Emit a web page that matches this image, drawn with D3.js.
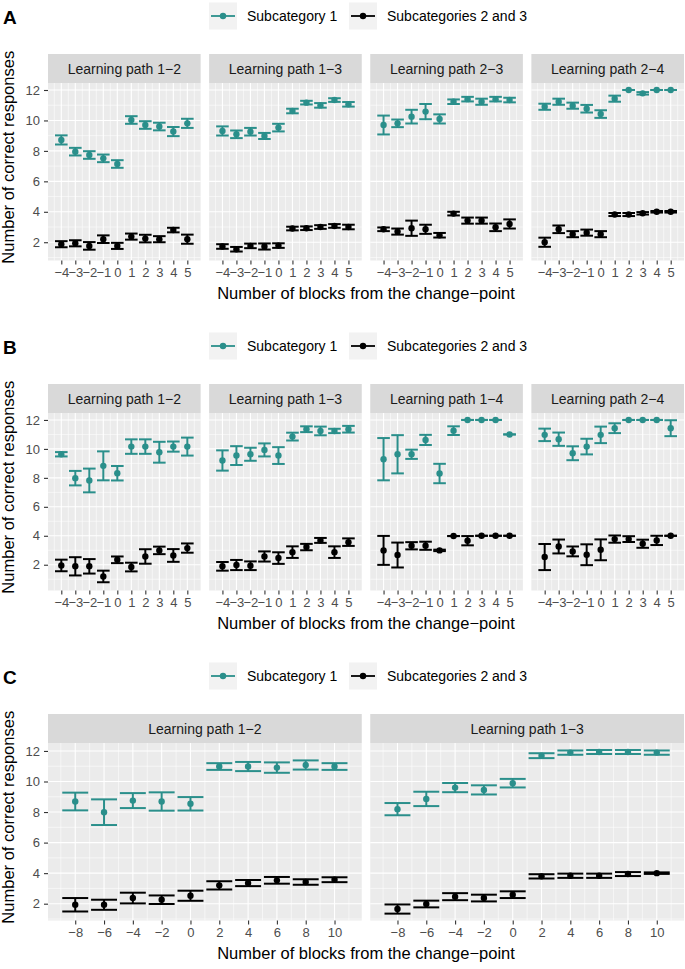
<!DOCTYPE html>
<html><head><meta charset="utf-8">
<script src="https://cdn.jsdelivr.net/npm/d3@7"></script>
<style>body{margin:0;background:#fff}svg{display:block;font-family:"Liberation Sans",Arial,Helvetica,sans-serif}</style>
</head><body><div id="chart"></div>
<script>
// ---------------- DATA ----------------
const seriesNames = ["Subcategory 1", "Subcategories 2 and 3"];
const blocksAB = [-4,-3,-2,-1,0,1,2,3,4,5];
const blocksC = [-8,-6,-4,-2,0,2,4,6,8,10];
const xTicksAB = blocksAB;
const xTicksC = blocksC;
const yTicks = [2,4,6,8,10,12];
const xTitle = "Number of blocks from the change\u2212point";
const yTitle = "Number of correct responses";

const pathsA = ["Learning path 1\u22122","Learning path 1\u22123","Learning path 2\u22123","Learning path 2\u22124"];
const pathsB = ["Learning path 1\u22122","Learning path 1\u22123","Learning path 1\u22124","Learning path 2\u22124"];
const pathsC = ["Learning path 1\u22122","Learning path 1\u22123"];

// Panel A
const aSub1 = [
  [8.72,7.95,7.73,7.51,7.14,10.03,9.70,9.60,9.27,9.81],
  [9.31,9.09,9.26,8.98,9.53,10.62,11.17,10.99,11.34,11.06],
  [9.70,9.81,10.25,10.58,10.10,11.23,11.40,11.23,11.40,11.34],
  [10.90,11.23,10.97,10.77,10.42,11.43,12.00,11.78,12.00,12.00]];
const aSub1Se = [
  [0.30,0.25,0.25,0.25,0.25,0.25,0.25,0.25,0.30,0.30],
  [0.30,0.25,0.25,0.20,0.25,0.15,0.12,0.15,0.12,0.15],
  [0.62,0.25,0.45,0.50,0.30,0.15,0.15,0.20,0.15,0.15],
  [0.20,0.20,0.20,0.25,0.25,0.20,0.00,0.08,0.00,0.00]];
const aSub23 = [
  [1.87,1.93,1.76,2.20,1.76,2.37,2.24,2.20,2.80,2.20],
  [1.72,1.54,1.76,1.72,1.78,2.90,2.92,3.00,3.07,3.00],
  [2.85,2.70,2.92,2.85,2.46,3.88,3.42,3.42,2.98,3.20],
  [2.00,2.85,2.53,2.63,2.53,3.82,3.82,3.90,4.00,4.00]];
const aSub23Se = [
  [0.20,0.20,0.25,0.25,0.20,0.20,0.25,0.20,0.15,0.30],
  [0.15,0.15,0.15,0.20,0.15,0.12,0.12,0.12,0.12,0.15],
  [0.12,0.20,0.50,0.30,0.15,0.12,0.20,0.20,0.25,0.30],
  [0.30,0.25,0.20,0.20,0.20,0.10,0.10,0.08,0.05,0.05]];

// Panel B
const bSub1 = [
  [9.63,7.98,7.82,8.83,8.32,10.16,10.16,9.77,10.16,10.16],
  [9.20,9.54,9.63,9.93,9.54,10.85,11.36,11.24,11.24,11.36],
  [9.29,9.63,9.63,10.62,8.30,11.26,12.00,12.00,12.00,11.00],
  [10.97,10.67,9.70,10.16,10.97,11.43,12.00,12.00,12.00,11.43]];
const bSub1Se = [
  [0.15,0.50,0.82,1.00,0.50,0.50,0.50,0.72,0.35,0.62],
  [0.70,0.65,0.45,0.45,0.58,0.27,0.20,0.30,0.15,0.23],
  [1.46,1.32,0.32,0.35,0.67,0.30,0.00,0.00,0.00,0.00],
  [0.43,0.46,0.48,0.54,0.57,0.34,0.00,0.00,0.00,0.55]];
const bSub23 = [
  [1.95,1.89,1.89,1.19,2.34,1.84,2.57,2.99,2.64,3.15],
  [1.89,1.98,1.93,2.57,2.46,2.87,3.22,3.68,2.87,3.56],
  [2.99,2.67,3.31,3.31,2.99,3.98,3.66,4.00,4.00,4.00],
  [2.53,3.26,2.92,2.69,3.03,3.77,3.77,3.45,3.68,4.00]];
const bSub23Se = [
  [0.40,0.63,0.50,0.40,0.23,0.30,0.50,0.26,0.44,0.32],
  [0.30,0.35,0.30,0.35,0.40,0.40,0.22,0.17,0.40,0.26],
  [1.00,0.86,0.25,0.28,0.05,0.00,0.32,0.00,0.00,0.00],
  [0.90,0.48,0.34,0.72,0.72,0.25,0.20,0.28,0.32,0.00]];

// Panel C
const cSub1 = [
  [8.69,7.99,8.75,8.69,8.54,10.98,10.98,10.91,11.08,10.98],
  [8.19,8.86,9.60,9.45,9.89,11.69,11.89,11.93,11.93,11.89]];
const cSub1Se = [
  [0.58,0.84,0.49,0.60,0.44,0.22,0.30,0.34,0.30,0.22],
  [0.40,0.47,0.30,0.30,0.28,0.16,0.14,0.13,0.13,0.14]];
const cSub23 = [
  [1.93,1.93,2.37,2.26,2.52,3.20,3.35,3.53,3.42,3.57],
  [1.65,1.98,2.46,2.37,2.59,3.79,3.83,3.83,3.94,4.00]];
const cSub23Se = [
  [0.44,0.33,0.35,0.28,0.33,0.27,0.20,0.22,0.18,0.16],
  [0.30,0.22,0.23,0.22,0.22,0.14,0.14,0.14,0.13,0.05]];

// ---------------- DRAWING ----------------
const W = 685, H = 969;
const colors = ["#2a8f8b", "#000000"];
const svg = d3.select("#chart").append("svg").attr("width", W).attr("height", H);

const L = 48, R = 684, GAP = 8.5;
const STRIP_T = 54, STRIP_B = 83, PANEL_B = 260.5;

function drawFigure(cfg) {
  const g = svg.append("g").attr("transform", `translate(0,${cfg.oy})`);
  g.append("text").attr("x", 3).attr("y", 24).attr("font-size", 19).attr("font-weight", "bold").text(cfg.label);
  const legX = [209, 349];
  seriesNames.forEach((name, i) => {
    const lg = g.append("g").attr("transform", `translate(${legX[i]},2.5)`);
    lg.append("rect").attr("width", 28).attr("height", 27).attr("fill", "#f2f2f2");
    lg.append("line").attr("x1", 2).attr("x2", 26).attr("y1", 13.5).attr("y2", 13.5)
      .attr("stroke", colors[i]).attr("stroke-width", 1.8);
    lg.append("circle").attr("cx", 14).attr("cy", 13.5).attr("r", 3.2).attr("fill", colors[i]);
    lg.append("text").attr("x", 38).attr("y", 18.5).attr("font-size", 14).attr("fill", "#000").text(name);
  });

  const n = cfg.paths.length;
  const pw = (R - L - GAP * (n - 1)) / n;
  const y = d3.scaleLinear().domain(cfg.yDomain).range([PANEL_B, STRIP_B]);
  const yMinor = d3.range(1, 13, 2).filter(v => v >= cfg.yDomain[0] && v <= cfg.yDomain[1]);

  cfg.paths.forEach((p, fi) => {
    const x0 = L + fi * (pw + GAP);
    const x = d3.scaleLinear().domain(cfg.xDomain).range([x0, x0 + pw]);
    const fg = g.append("g");
    fg.append("rect").attr("x", x0).attr("y", STRIP_T).attr("width", pw).attr("height", STRIP_B - STRIP_T).attr("fill", "#d9d9d9");
    fg.append("text").attr("x", x0 + pw / 2).attr("y", (STRIP_T + STRIP_B) / 2 + 5).attr("text-anchor", "middle")
      .attr("font-size", 14).attr("fill", "#1a1a1a").text(p);
    fg.append("rect").attr("x", x0).attr("y", STRIP_B).attr("width", pw).attr("height", PANEL_B - STRIP_B).attr("fill", "#ebebeb");
    const xMinor = cfg.xMinor.filter(v => v >= cfg.xDomain[0] && v <= cfg.xDomain[1]);
    fg.selectAll(".yminor").data(yMinor).enter().append("line")
      .attr("x1", x0).attr("x2", x0 + pw).attr("y1", d => y(d)).attr("y2", d => y(d))
      .attr("stroke", "#fff").attr("stroke-width", 0.55);
    fg.selectAll(".xminor").data(xMinor).enter().append("line")
      .attr("y1", STRIP_B).attr("y2", PANEL_B).attr("x1", d => x(d)).attr("x2", d => x(d))
      .attr("stroke", "#fff").attr("stroke-width", 0.55);
    fg.selectAll(".ymaj").data(yTicks).enter().append("line")
      .attr("x1", x0).attr("x2", x0 + pw).attr("y1", d => y(d)).attr("y2", d => y(d))
      .attr("stroke", "#fff").attr("stroke-width", 1.1);
    fg.selectAll(".xmaj").data(cfg.xTicks).enter().append("line")
      .attr("y1", STRIP_B).attr("y2", PANEL_B).attr("x1", d => x(d)).attr("x2", d => x(d))
      .attr("stroke", "#fff").attr("stroke-width", 1.1);
    const xa = fg.append("g").attr("transform", `translate(0,${PANEL_B})`)
      .call(d3.axisBottom(x).tickValues(cfg.xTicks).tickSize(4).tickPadding(3)
        .tickFormat(d => d < 0 ? "\u2212" + Math.abs(d) : String(d)));
    xa.select(".domain").remove();
    xa.selectAll(".tick line").attr("stroke", "#333").attr("stroke-width", 1.1);
    xa.selectAll(".tick text").attr("fill", "#4d4d4d").attr("font-size", 13).attr("font-family", "Liberation Sans, Arial, sans-serif");
    if (fi === 0) {
      const ya = fg.append("g").attr("transform", `translate(${x0},0)`)
        .call(d3.axisLeft(y).tickValues(yTicks).tickSize(4).tickPadding(4));
      ya.select(".domain").remove();
      ya.selectAll(".tick line").attr("stroke", "#333").attr("stroke-width", 1.1);
      ya.selectAll(".tick text").attr("fill", "#4d4d4d").attr("font-size", 13).attr("font-family", "Liberation Sans, Arial, sans-serif");
    }
    const series = [
      { m: cfg.sub1[fi], s: cfg.sub1Se[fi], c: colors[0] },
      { m: cfg.sub23[fi], s: cfg.sub23Se[fi], c: colors[1] }];
    const hw = cfg.capWidth / 2;
    series.forEach(sr => {
      const pts = cfg.blocks.map((b, i) => ({ b, m: sr.m[i], s: sr.s[i] }));
      const eg = fg.append("g").attr("stroke", sr.c).attr("stroke-width", 2).attr("fill", "none");
      pts.forEach(d => {
        eg.append("line").attr("x1", x(d.b)).attr("x2", x(d.b)).attr("y1", y(d.m - d.s)).attr("y2", y(d.m + d.s));
        eg.append("line").attr("x1", x(d.b - hw)).attr("x2", x(d.b + hw)).attr("y1", y(d.m + d.s)).attr("y2", y(d.m + d.s));
        eg.append("line").attr("x1", x(d.b - hw)).attr("x2", x(d.b + hw)).attr("y1", y(d.m - d.s)).attr("y2", y(d.m - d.s));
      });
      fg.selectAll(null).data(pts).enter().append("circle")
        .attr("cx", d => x(d.b)).attr("cy", d => y(d.m)).attr("r", 3.2).attr("fill", sr.c);
    });
  });
  g.append("text").attr("x", (L + R) / 2).attr("y", 298.5).attr("text-anchor", "middle")
    .attr("font-size", 16.5).attr("fill", "#000").text(xTitle);
  g.append("text").attr("transform", `translate(14,${(STRIP_T + PANEL_B) / 2}) rotate(-90)`)
    .attr("text-anchor", "middle").attr("font-size", 16.5).attr("fill", "#000").text(yTitle);
}

const minorAB = d3.range(-5.5, 6.5, 1);
const minorC = d3.range(-11, 13, 2);

drawFigure({ oy: 0, label: "A", paths: pathsA, blocks: blocksAB, xTicks: xTicksAB, xMinor: minorAB,
  xDomain: [-4.95, 5.95], yDomain: [0.8, 12.46], capWidth: 0.9,
  sub1: aSub1, sub1Se: aSub1Se, sub23: aSub23, sub23Se: aSub23Se });
drawFigure({ oy: 330, label: "B", paths: pathsB, blocks: blocksAB, xTicks: xTicksAB, xMinor: minorAB,
  xDomain: [-4.95, 5.95], yDomain: [0.22, 12.48], capWidth: 0.9,
  sub1: bSub1, sub1Se: bSub1Se, sub23: bSub23, sub23Se: bSub23Se });
drawFigure({ oy: 660, label: "C", paths: pathsC, blocks: blocksC, xTicks: xTicksC, xMinor: minorC,
  xDomain: [-9.89, 11.89], yDomain: [0.9, 12.52], capWidth: 1.8,
  sub1: cSub1, sub1Se: cSub1Se, sub23: cSub23, sub23Se: cSub23Se });
</script></body></html>
